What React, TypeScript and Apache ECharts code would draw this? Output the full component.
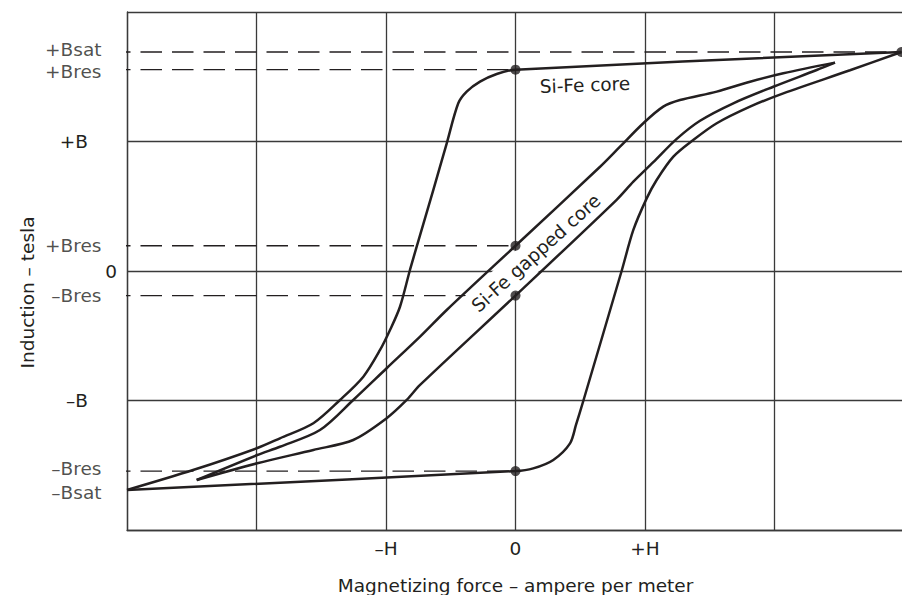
import React, { useEffect, useRef } from 'react';
import * as echarts from 'echarts';

// ---------- data (units: H on x, B on y) ----------
const xTickLabels: Record<string, string> = { '-1': '–H', '0': '0', '1': '+H' };
const yTickLabels: Record<string, string> = { '1': '+B', '0': '0', '-1': '–B' };

// reference induction levels shown at the left
const levelNames = ['+Bsat', '+Bres', '+Bres', '–Bres', '–Bres', '–Bsat'];
const levelValues = [1.691, 1.555, 0.195, -0.19, -1.545, -1.691];
// x where each dashed guide meets its curve (null: no guide)
const levelGuideEnds: (number | null)[] = [2.98, 0, 0, 0, 0, null];

// Si-Fe core (square loop)
const coreRising: [number, number][] = [
  [-3, -1.691], [0, -1.545], [0.137, -1.524], [0.292, -1.459], [0.421, -1.331],
  [0.467, -1.189], [0.524, -1.002], [0.82, 0.002], [0.91, 0.317], [1.013, 0.561],
  [1.09, 0.703], [1.219, 0.883], [1.373, 1.012], [1.554, 1.141], [1.811, 1.269],
  [2.068, 1.372], [2.583, 1.55], [2.98, 1.691],
];
const coreFalling: [number, number][] = [
  [2.98, 1.691], [0, 1.555], [-0.145, 1.521], [-0.274, 1.462], [-0.377, 1.385],
  [-0.442, 1.295], [-0.531, 0.986], [-0.635, 0.625], [-0.763, 0.188], [-0.815, 0.008],
  [-0.892, -0.276], [-0.969, -0.456], [-1.046, -0.61], [-1.175, -0.816], [-1.355, -0.996],
  [-1.561, -1.176], [-1.819, -1.292], [-1.998, -1.369], [-2.49, -1.537], [-3, -1.691],
];

// Si-Fe gapped core
const gappedRising: [number, number][] = [
  [-2.462, -1.614], [-1.994, -1.485], [-1.561, -1.382], [-1.253, -1.305], [-0.995, -1.137],
  [-0.84, -0.996], [-0.737, -0.88], [0, -0.19], [0.781, 0.55], [0.91, 0.69],
  [1.064, 0.84], [1.245, 1.02], [1.425, 1.16], [1.682, 1.295], [1.991, 1.423],
  [2.326, 1.552], [2.467, 1.609],
];
const gappedFalling: [number, number][] = [
  [2.467, 1.609], [2.068, 1.527], [1.811, 1.462], [1.554, 1.385], [1.27, 1.32],
  [1.141, 1.269], [0.987, 1.141], [0.807, 0.96], [0.653, 0.805], [0, 0.195],
  [-0.531, -0.301], [-0.737, -0.507], [-0.995, -0.751], [-1.253, -0.996], [-1.51, -1.228],
  [-1.819, -1.357], [-1.994, -1.421], [-2.462, -1.614],
];

const markedPoints: [number, number][] = [
  [0, 1.555], [0, 0.195], [0, -0.19], [0, -1.545], [2.98, 1.691],
];

// ---------- style ----------
const FONT = '"DejaVu Sans", sans-serif';
const FS = 18.5;
const INK = '#231f20';
const GRID_INK = '#3a3a3a';
const GUIDE_START = -3 - 18 / 129.5; // guides start a little left of the axis
// small vertical nudges so that the close level labels do not collide
const LABEL_NUDGE = [-2.2, 2.2, 0, 0, -2.2, 2.2];

export default function App() {
  const ref = useRef<HTMLDivElement>(null);
  useEffect(() => {
    if (!ref.current) return;
    const chart = echarts.init(ref.current, null, { renderer: 'svg' });

    const curve = (data: [number, number][]) => ({
      type: 'line',
      data,
      showSymbol: false,
      symbol: 'none',
      smooth: 0.3,
      clip: false,
      silent: true,
      z: 10,
      lineStyle: { color: INK, width: 2.5 },
    });

    const guides: any[] = [];
    levelValues.forEach((v, i) => {
      const end = levelGuideEnds[i];
      if (end === null) return;
      guides.push({
        type: 'line',
        data: [[GUIDE_START, v], [end, v]],
        showSymbol: false,
        symbol: 'none',
        clip: false,
        silent: true,
        z: 2,
        lineStyle: { color: INK, width: 1.3, type: [21.5, 10] },
      });
    });

    chart.setOption({
      animation: false,
      backgroundColor: '#ffffff',
      grid: {
        left: 127,
        top: 12,
        width: 777,
        height: 518,
        containLabel: false,
        outerBoundsMode: 'none',
      },
      xAxis: {
        type: 'value',
        min: -3,
        max: 3,
        interval: 1,
        name: 'Magnetizing force – ampere per meter',
        nameLocation: 'middle',
        nameGap: 46,
        nameTextStyle: { fontFamily: FONT, fontSize: FS, color: INK },
        axisLine: { show: true, onZero: false, lineStyle: { color: GRID_INK, width: 1.3 } },
        axisTick: { show: false },
        splitLine: { show: true, lineStyle: { color: GRID_INK, width: 1.3 } },
        axisLabel: {
          margin: 9,
          fontFamily: FONT,
          fontSize: FS,
          color: INK,
          formatter: (v: number) => xTickLabels[String(v)] ?? '',
        },
      },
      yAxis: {
        type: 'value',
        min: -2,
        max: 2,
        interval: 1,
        axisLine: { show: true, onZero: false, lineStyle: { color: GRID_INK, width: 1.3 } },
        axisTick: { show: false },
        splitLine: { show: true, lineStyle: { color: GRID_INK, width: 1.3 } },
        axisLabel: {
          margin: 10,
          fontFamily: FONT,
          fontSize: FS,
          color: INK,
          formatter: (v: number) => {
            const t = yTickLabels[String(v)] ?? '';
            return v === 0 || t === '' ? t : `{p|${t}}`;
          },
          rich: {
            p: { fontFamily: FONT, fontSize: FS, color: INK, padding: [0, 29, 0, 0] },
          },
        },
      },
      graphic: [
        {
          type: 'text',
          x: 27,
          y: 292.5,
          rotation: Math.PI / 2,
          silent: true,
          style: {
            text: 'Induction – tesla',
            fontFamily: FONT,
            fontSize: FS,
            fill: INK,
            align: 'center',
            verticalAlign: 'middle',
          },
        },
        {
          type: 'text',
          x: 585,
          y: 85,
          rotation: 0.035,
          z: 5,
          silent: true,
          style: {
            text: 'Si-Fe core',
            fontFamily: FONT,
            fontSize: FS,
            fill: INK,
            align: 'center',
            verticalAlign: 'middle',
          },
        },
        {
          type: 'text',
          x: 536,
          y: 253,
          rotation: (42 * Math.PI) / 180,
          z: 5,
          silent: true,
          style: {
            text: 'Si-Fe gapped core',
            fontFamily: FONT,
            fontSize: FS,
            fill: INK,
            align: 'center',
            verticalAlign: 'middle',
            backgroundColor: '#ffffff',
            padding: [6, 3],
          },
        },
      ],
      series: [
        ...guides,
        curve(coreRising),
        curve(coreFalling),
        curve(gappedRising),
        curve(gappedFalling),
        {
          type: 'scatter',
          data: markedPoints,
          symbol: 'circle',
          symbolSize: 10,
          clip: false,
          silent: true,
          z: 11,
          itemStyle: { color: INK },
        },
        {
          type: 'scatter',
          data: levelValues.map((v, i) => ({
            value: [GUIDE_START, v],
            name: levelNames[i],
            label: { offset: [0, LABEL_NUDGE[i]] },
          })),
          symbolSize: 1,
          clip: false,
          silent: true,
          z: 3,
          itemStyle: { color: 'rgba(0,0,0,0)' },
          label: {
            show: true,
            position: 'left',
            distance: 7,
            formatter: '{b}',
            fontFamily: FONT,
            fontSize: FS,
            lineHeight: 15,
            color: INK,
          },
        },
      ],
    });
    return () => chart.dispose();
  }, []);

  return (
    <div
      ref={ref}
      style={{ position: 'fixed', left: 0, top: 0, width: 902, height: 595, background: '#fff' }}
    />
  );
}
